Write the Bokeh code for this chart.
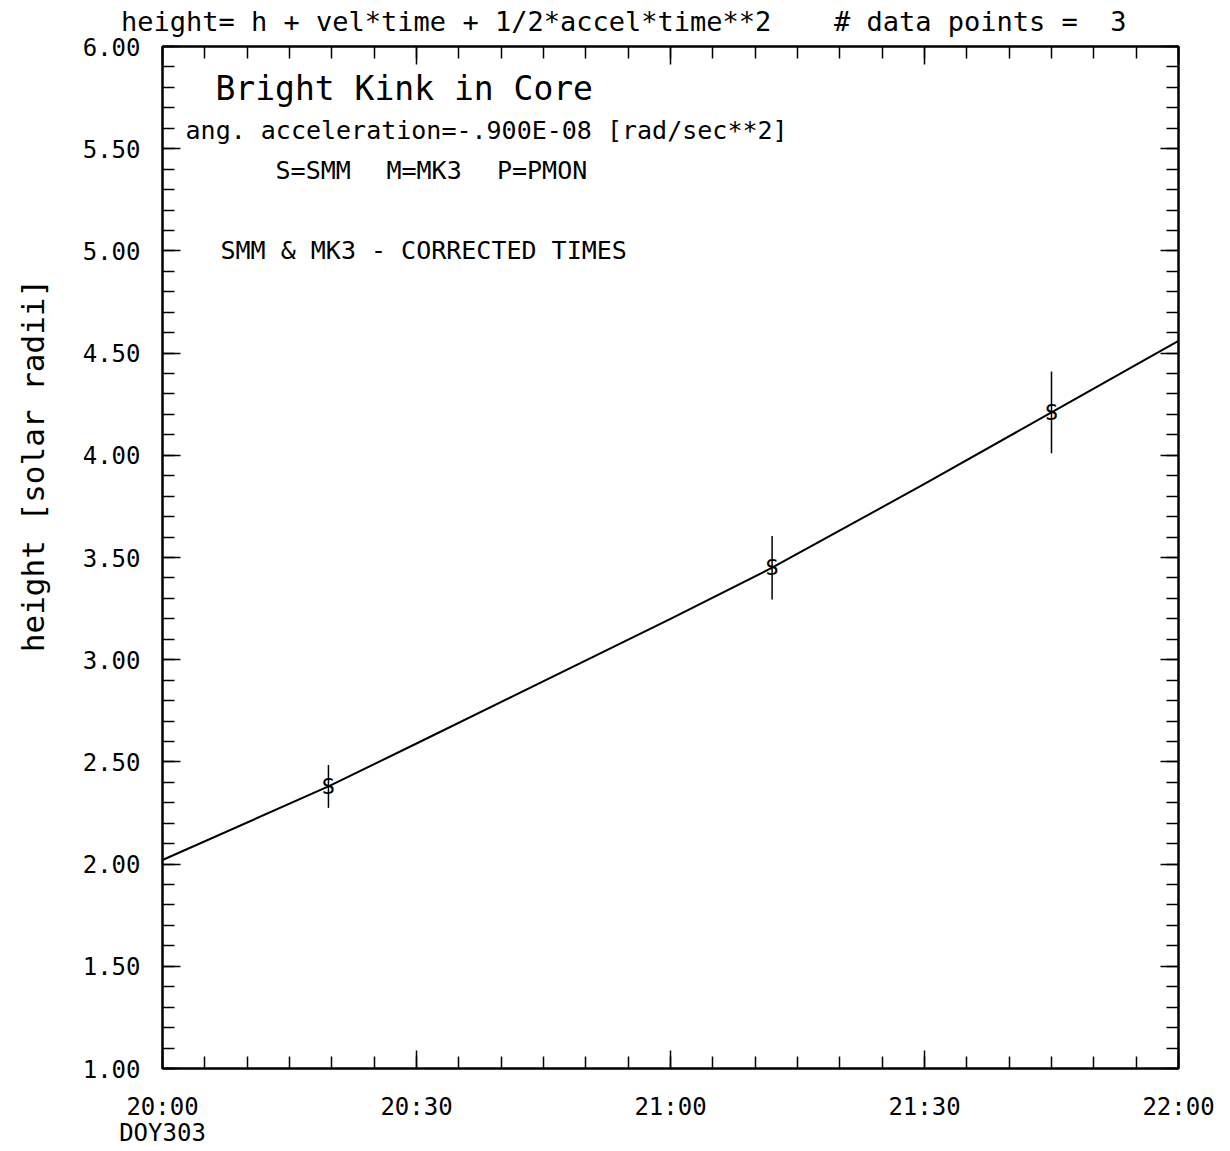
from bokeh.plotting import figure
from bokeh.models import (LinearAxis, FixedTicker, Range1d, Label,
                          ColumnDataSource, CustomJSTickFormatter)
from bokeh.core.properties import value
from bokeh.embed import file_html
from bokeh.resources import INLINE

# ---- data (time in minutes after 20:00, DOY 303) ----
obs_time = [19.6, 72.0, 105.0]
obs_height = [2.38, 3.45, 4.21]
obs_err = [0.105, 0.155, 0.20]
obs_symbol = ["S", "S", "S"]

# fitted curve
fit_time = [0, 19.6, 30, 60, 72, 90, 105, 120]
fit_height = [2.02, 2.38, 2.59, 3.20, 3.45, 3.86, 4.21, 4.56]

x_ticks = [0, 30, 60, 90, 120]
x_tick_labels = ["20:00\nDOY303", "20:30", "21:00", "21:30", "22:00"]
x_minor = list(range(0, 121, 5))

y_ticks = [1.0, 1.5, 2.0, 2.5, 3.0, 3.5, 4.0, 4.5, 5.0, 5.5, 6.0]
y_tick_labels = ["1.00", "1.50", "2.00", "2.50", "3.00", "3.50",
                 "4.00", "4.50", "5.00", "5.50", "6.00"]
y_minor = [round(1.0 + 0.1 * i, 2) for i in range(51)]

# header line above the frame (text, centre position in minutes)
header_text = ["height= h + vel*time + 1/2*accel*time**2",
               "# data points =", "3"]
header_pos = [33.5, 93.7, 112.9]

y_title = "height [solar radii]"
y_title_pos = 3.95

FONT = "DejaVu Sans Mono"

p = figure(frame_width=1016, frame_height=1022,
           x_range=Range1d(0, 120), y_range=Range1d(1, 6),
           x_axis_type=None, y_axis_type=None,
           output_backend="svg", toolbar_location=None,
           min_border_left=162, min_border_top=46,
           min_border_right=44, min_border_bottom=80,
           background_fill_color="white", border_fill_color="white")
p.outline_line_color = "black"
p.outline_line_width = 2

xt = FixedTicker(ticks=x_ticks, minor_ticks=x_minor)
yt = FixedTicker(ticks=y_ticks, minor_ticks=y_minor)


def style(ax):
    ax.axis_line_color = "black"
    ax.axis_line_width = 2
    ax.major_tick_in = 18
    ax.major_tick_out = 0
    ax.minor_tick_in = 12
    ax.minor_tick_out = 0
    ax.major_tick_line_width = 1.5
    ax.minor_tick_line_width = 1.5
    ax.major_tick_line_color = "black"
    ax.minor_tick_line_color = "black"
    ax.major_label_text_font = FONT
    ax.major_label_text_font_size = "24px"
    ax.major_label_text_color = "black"


def text_only(ax):
    ax.axis_line_color = None
    ax.major_tick_line_color = None
    ax.minor_tick_line_color = None
    ax.major_tick_in = 0
    ax.major_tick_out = 0
    ax.minor_tick_in = 0
    ax.minor_tick_out = 0
    ax.major_label_text_font = FONT
    ax.major_label_text_color = "black"


bottom = LinearAxis(ticker=xt,
                    major_label_overrides=dict(zip(x_ticks, x_tick_labels)))
style(bottom)
bottom.major_label_standoff = 24
bottom.major_label_text_line_height = 0.95
p.add_layout(bottom, "below")

left = LinearAxis(ticker=yt,
                  major_label_overrides=dict(zip(y_ticks, y_tick_labels)))
style(left)
left.major_label_standoff = 22
p.add_layout(left, "left")

blank = CustomJSTickFormatter(code="return ''")
top = LinearAxis(ticker=xt, formatter=blank)
style(top)
top.major_label_standoff = 0
p.add_layout(top, "above")

right = LinearAxis(ticker=yt, formatter=blank)
style(right)
right.major_label_standoff = 0
p.add_layout(right, "right")

# header text carried by a line-less axis above the frame
head = LinearAxis(ticker=FixedTicker(ticks=header_pos, minor_ticks=[]),
                  major_label_overrides=dict(zip(header_pos, header_text)))
text_only(head)
head.major_label_text_font_size = "27px"
head.major_label_standoff = 10
p.add_layout(head, "above")

# y title carried by a line-less axis left of the tick labels
ytitle = LinearAxis(ticker=FixedTicker(ticks=[y_title_pos], minor_ticks=[]),
                    major_label_overrides={y_title_pos: y_title})
text_only(ytitle)
ytitle.major_label_text_font_size = "31px"
ytitle.major_label_orientation = "parallel"
ytitle.major_label_standoff = 28
p.add_layout(ytitle, "left")

# fit curve
p.line(fit_time, fit_height, line_color="black", line_width=2)

# error bars and symbols
src = ColumnDataSource(dict(
    t=obs_time, h=obs_height,
    lo=[h - e for h, e in zip(obs_height, obs_err)],
    hi=[h + e for h, e in zip(obs_height, obs_err)],
    s=obs_symbol))
p.segment(x0="t", y0="lo", x1="t", y1="hi", source=src,
          line_color="black", line_width=1.5)
p.text(x="t", y="h", text="s", source=src, text_align="center",
       text_baseline="middle", text_font=value(FONT),
       text_font_size="22px", text_color="black")


def lab(x, y, txt, size, align="left"):
    p.add_layout(Label(x=x, y=y, text=txt, text_font=FONT,
                       text_font_size=size, text_align=align,
                       text_baseline="middle", text_color="black"))


lab(6.26, 5.795, "Bright Kink in Core", "33px")
lab(2.72, 5.589, "ang. acceleration=-.900E-08 [rad/sec**2]", "25px")
lab(13.35, 5.393, "S=SMM", "25px")
lab(26.45, 5.393, "M=MK3", "25px")
lab(39.5, 5.393, "P=PMON", "25px")
lab(6.85, 5.002, "SMM & MK3 - CORRECTED TIMES", "25px")

open("out.html", "w").write(file_html(p, INLINE))
